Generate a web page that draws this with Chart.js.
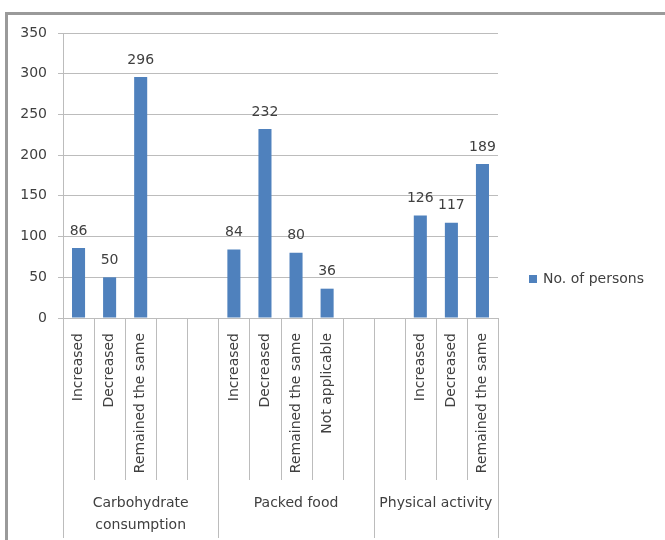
<!DOCTYPE html>
<html>
<head>
<meta charset="utf-8">
<script src="https://cdn.jsdelivr.net/npm/chart.js@4"></script>
<style>
  html, body { margin: 0; padding: 0; background: #ffffff; }
  #wrap { position: relative; width: 665px; height: 540px; overflow: hidden; }
  #frame { position: absolute; left: 5px; top: 12px; width: 700px; height: 600px;
           border-top: 3px solid #9a9a9a; border-left: 3px solid #9a9a9a; box-sizing: border-box; }
  #c { position: absolute; left: 0; top: 0; }
</style>
</head>
<body>
<div id="wrap">
  <div id="frame"></div>
  <canvas id="c" width="665" height="540"></canvas>
</div>
<script>
// Category slots (blank strings are empty spacer slots inside a group)
const categories = [
  'Increased', 'Decreased', 'Remained the same', '', '',
  'Increased', 'Decreased', 'Remained the same', 'Not applicable', '',
  '', 'Increased', 'Decreased', 'Remained the same'
];
// Number of persons for each slot
const persons = [86, 50, 296, null, null, 84, 232, 80, 36, null, null, 126, 117, 189];
// Outer grouping of the category axis
const groupNames = [['Carbohydrate', 'consumption'], ['Packed food'], ['Physical activity']];
const groupSizes = [5, 5, 4];
const yTicks = [0, 50, 100, 150, 200, 250, 300, 350];
const seriesName = 'No. of persons';

const FONT = 'DejaVu Sans';
const TEXT = '#404040';
const LINE = '#bcbcbc';

// Value labels above each bar
const valueLabels = {
  id: 'valueLabels',
  afterDatasetsDraw(chart) {
    const ctx = chart.ctx;
    const meta = chart.getDatasetMeta(0);
    ctx.save();
    ctx.font = '14px "' + FONT + '"';
    ctx.fillStyle = TEXT;
    ctx.textAlign = 'center';
    ctx.textBaseline = 'middle';
    meta.data.forEach((bar, i) => {
      const v = chart.data.datasets[0].data[i];
      if (v === null || v === undefined) return;
      ctx.fillText(String(v), bar.x, bar.y - 17);
    });
    ctx.restore();
  }
};

// Two-level category axis: slot separators, group separators and group names
const groupAxis = {
  id: 'groupAxis',
  afterDraw(chart) {
    const ctx = chart.ctx;
    const x = chart.scales.x;
    const area = chart.chartArea;
    const n = chart.data.labels.length;
    const slot = (x.getPixelForValue(n - 1) - x.getPixelForValue(0)) / (n - 1);
    const edge = i => x.getPixelForValue(i) - slot / 2;
    const groupEdges = [0];
    groupSizes.forEach(s => groupEdges.push(groupEdges[groupEdges.length - 1] + s));

    ctx.save();
    ctx.strokeStyle = LINE;
    ctx.lineWidth = 1;
    for (let i = 0; i <= n; i++) {
      const px = Math.round(edge(i)) + 0.5;
      const isGroup = groupEdges.includes(i);
      ctx.beginPath();
      ctx.moveTo(px, isGroup && i === 0 ? area.top : area.bottom);
      ctx.lineTo(px, isGroup ? 538 : 480);
      ctx.stroke();
    }
    ctx.font = '14px "' + FONT + '"';
    ctx.fillStyle = TEXT;
    ctx.textAlign = 'center';
    ctx.textBaseline = 'middle';
    groupNames.forEach((lines, g) => {
      const cx = (edge(groupEdges[g]) + edge(groupEdges[g + 1])) / 2;
      lines.forEach((t, k) => ctx.fillText(t, cx, 503 + k * 22));
    });
    ctx.restore();
  }
};

// Legend to the right of the plot
const sideLegend = {
  id: 'sideLegend',
  afterDraw(chart) {
    const ctx = chart.ctx;
    const ds = chart.data.datasets[0];
    const x0 = chart.chartArea.right + 31;
    const y0 = 279;
    ctx.save();
    ctx.fillStyle = ds.backgroundColor;
    ctx.fillRect(x0, y0 - 4, 8, 8);
    ctx.font = '14px "' + FONT + '"';
    ctx.fillStyle = TEXT;
    ctx.textAlign = 'left';
    ctx.textBaseline = 'middle';
    ctx.fillText(ds.label, x0 + 14, y0);
    ctx.restore();
  }
};

Chart.defaults.font.family = FONT;
Chart.defaults.font.size = 14;
Chart.defaults.color = TEXT;

new Chart(document.getElementById('c'), {
  type: 'bar',
  data: {
    labels: categories,
    datasets: [{
      label: seriesName,
      data: persons,
      backgroundColor: '#4f81bd',
      borderWidth: 0,
      categoryPercentage: 1.0,
      barPercentage: 0.42
    }]
  },
  options: {
    responsive: false,
    animation: false,
    layout: { padding: { top: 33, right: 167, bottom: 0, left: 0 } },
    plugins: { legend: { display: false }, tooltip: { enabled: false } },
    scales: {
      x: {
        grid: { display: false },
        border: { display: true, color: LINE, width: 1 },
        ticks: { minRotation: 90, maxRotation: 90, autoSkip: false, padding: 7,
                 font: { size: 14 }, color: TEXT },
        afterFit(scale) { scale.height = 222; }
      },
      y: {
        min: 0, max: 350,
        afterBuildTicks(scale) { scale.ticks = yTicks.map(v => ({ value: v })); },
        grid: { color: LINE, lineWidth: 1, drawTicks: true, tickLength: 5 },
        border: { display: true, color: LINE, width: 1 },
        ticks: { padding: 11, font: { size: 14 }, color: TEXT },
        afterFit(scale) { scale.width = 63; }
      }
    }
  },
  plugins: [valueLabels, groupAxis, sideLegend]
});
</script>
</body>
</html>
